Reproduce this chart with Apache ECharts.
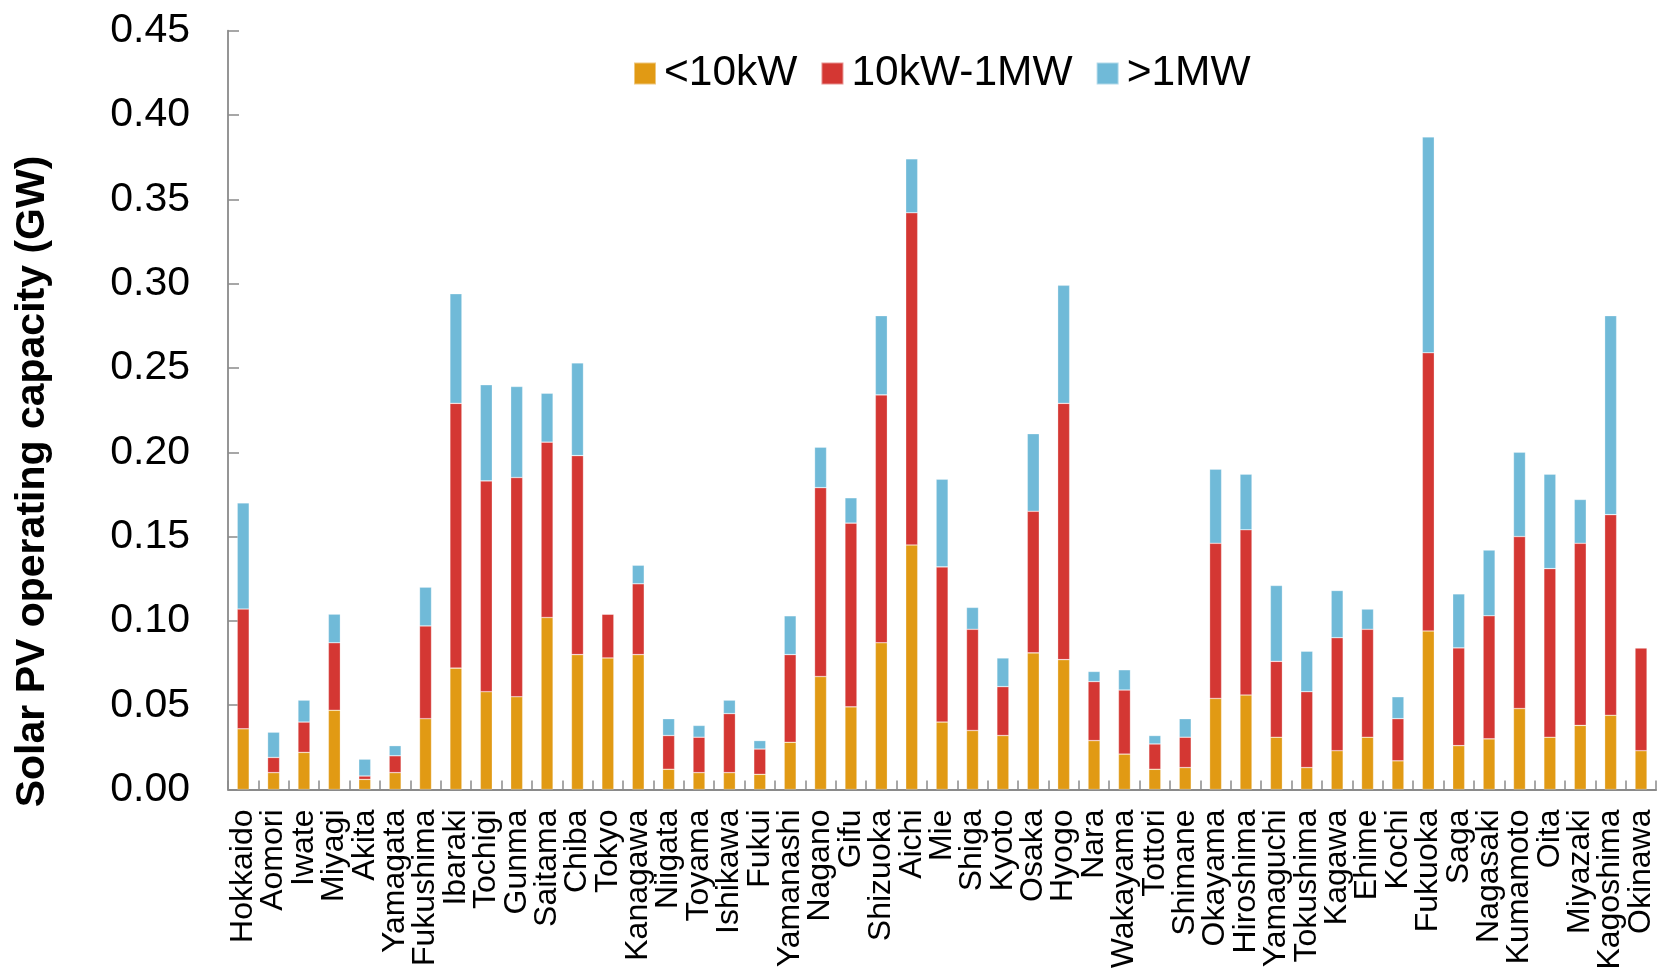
<!DOCTYPE html>
<html>
<head>
<meta charset="utf-8">
<script src="https://cdn.jsdelivr.net/npm/echarts@6/dist/echarts.min.js"></script>
<style>
  html, body { margin: 0; padding: 0; background: #ffffff; }
  #chart { width: 1657px; height: 973px; }
</style>
</head>
<body>
<div id="chart"></div>
<script>
// Prefectures of Japan, north to south
const prefectures = [
  'Hokkaido', 'Aomori', 'Iwate', 'Miyagi', 'Akita', 'Yamagata', 'Fukushima',
  'Ibaraki', 'Tochigi', 'Gunma', 'Saitama', 'Chiba', 'Tokyo', 'Kanagawa',
  'Niigata', 'Toyama', 'Ishikawa', 'Fukui', 'Yamanashi', 'Nagano', 'Gifu',
  'Shizuoka', 'Aichi', 'Mie', 'Shiga', 'Kyoto', 'Osaka', 'Hyogo', 'Nara',
  'Wakayama', 'Tottori', 'Shimane', 'Okayama', 'Hiroshima', 'Yamaguchi',
  'Tokushima', 'Kagawa', 'Ehime', 'Kochi', 'Fukuoka', 'Saga', 'Nagasaki',
  'Kumamoto', 'Oita', 'Miyazaki', 'Kagoshima', 'Okinawa'
];

// Operating capacity by system size (GW)
const smallUnder10kW = [
  0.036, 0.010, 0.022, 0.047, 0.006, 0.010, 0.042,
  0.072, 0.058, 0.055, 0.102, 0.080, 0.078, 0.080,
  0.012, 0.010, 0.010, 0.009, 0.028, 0.067, 0.049,
  0.087, 0.145, 0.040, 0.035, 0.032, 0.081, 0.077, 0.029,
  0.021, 0.012, 0.013, 0.054, 0.056, 0.031,
  0.013, 0.023, 0.031, 0.017, 0.094, 0.026, 0.030,
  0.048, 0.031, 0.038, 0.044, 0.023
];
const mid10kWto1MW = [
  0.071, 0.009, 0.018, 0.040, 0.002, 0.010, 0.055,
  0.157, 0.125, 0.130, 0.104, 0.118, 0.026, 0.042,
  0.020, 0.021, 0.035, 0.015, 0.052, 0.112, 0.109,
  0.147, 0.197, 0.092, 0.060, 0.029, 0.084, 0.152, 0.035,
  0.038, 0.015, 0.018, 0.092, 0.098, 0.045,
  0.045, 0.067, 0.064, 0.025, 0.165, 0.058, 0.073,
  0.102, 0.100, 0.108, 0.119, 0.061
];
const largeOver1MW = [
  0.063, 0.015, 0.013, 0.017, 0.010, 0.006, 0.023,
  0.065, 0.057, 0.054, 0.029, 0.055, 0.000, 0.011,
  0.010, 0.007, 0.008, 0.005, 0.023, 0.024, 0.015,
  0.047, 0.032, 0.052, 0.013, 0.017, 0.046, 0.070, 0.006,
  0.012, 0.005, 0.011, 0.044, 0.033, 0.045,
  0.024, 0.028, 0.012, 0.013, 0.128, 0.032, 0.039,
  0.050, 0.056, 0.026, 0.118, 0.000
];

const seriesNames = ['<10kW', '10kW-1MW', '>1MW'];
const seriesColors = ['#e19a14', '#d43733', '#70bad8'];
const yTitle = 'Solar PV operating capacity (GW)';

const FONT = '"Liberation Sans", Arial, Helvetica, sans-serif';
const AXIS_GRAY = '#8a8a8a';

const chart = echarts.init(document.getElementById('chart'), null, { renderer: 'canvas' });

function barSeries(name, data, color) {
  return {
    name: name,
    type: 'bar',
    stack: 'capacity',
    data: data,
    barWidth: 12,
    itemStyle: {
      color: color,
      borderColor: 'rgba(255,255,255,0.45)',
      borderWidth: 0.6
    },
    emphasis: { disabled: true }
  };
}

chart.setOption({
  animation: false,
  backgroundColor: '#ffffff',
  textStyle: { fontFamily: FONT },
  grid: { left: 228, right: -2, top: 30.7, bottom: 183.5, containLabel: false },
  legend: {
    data: seriesNames,
    left: 633,
    top: 52,
    padding: 0,
    icon: 'rect',
    itemWidth: 22,
    itemHeight: 22,
    itemGap: 23,
    textStyle: {
      fontFamily: FONT,
      fontSize: 42.5,
      color: '#000000',
      padding: [0, 0, 0, 3]
    }
  },
  xAxis: {
    type: 'category',
    data: prefectures,
    boundaryGap: true,
    axisLine: { show: true, lineStyle: { color: AXIS_GRAY, width: 1.8 } },
    axisTick: {
      show: true,
      inside: true,
      length: 9,
      interval: 0,
      lineStyle: { color: AXIS_GRAY, width: 1.5 }
    },
    axisLabel: {
      interval: 0,
      rotate: 90,
      margin: 20,
      fontFamily: FONT,
      fontSize: 32,
      color: '#000000'
    },
    splitLine: { show: false }
  },
  yAxis: {
    type: 'value',
    min: 0,
    max: 0.45,
    interval: 0.05,
    axisLine: { show: true, lineStyle: { color: AXIS_GRAY, width: 1.8 } },
    axisTick: {
      show: true,
      inside: true,
      length: 11,
      lineStyle: { color: AXIS_GRAY, width: 1.5 }
    },
    axisLabel: {
      margin: 38,
      fontFamily: FONT,
      fontSize: 41,
      color: '#000000',
      formatter: function (v) { return v.toFixed(2); }
    },
    splitLine: { show: false }
  },
  graphic: [
    {
      type: 'text',
      x: 33,
      y: 481.5,
      rotation: Math.PI / 2,
      silent: true,
      style: {
        text: yTitle,
        fontFamily: FONT,
        fontSize: 41,
        fontWeight: 'bold',
        fill: '#000000',
        align: 'center',
        verticalAlign: 'middle'
      }
    }
  ],
  series: [
    barSeries(seriesNames[0], smallUnder10kW, seriesColors[0]),
    barSeries(seriesNames[1], mid10kWto1MW, seriesColors[1]),
    barSeries(seriesNames[2], largeOver1MW, seriesColors[2])
  ]
});
</script>
</body>
</html>
